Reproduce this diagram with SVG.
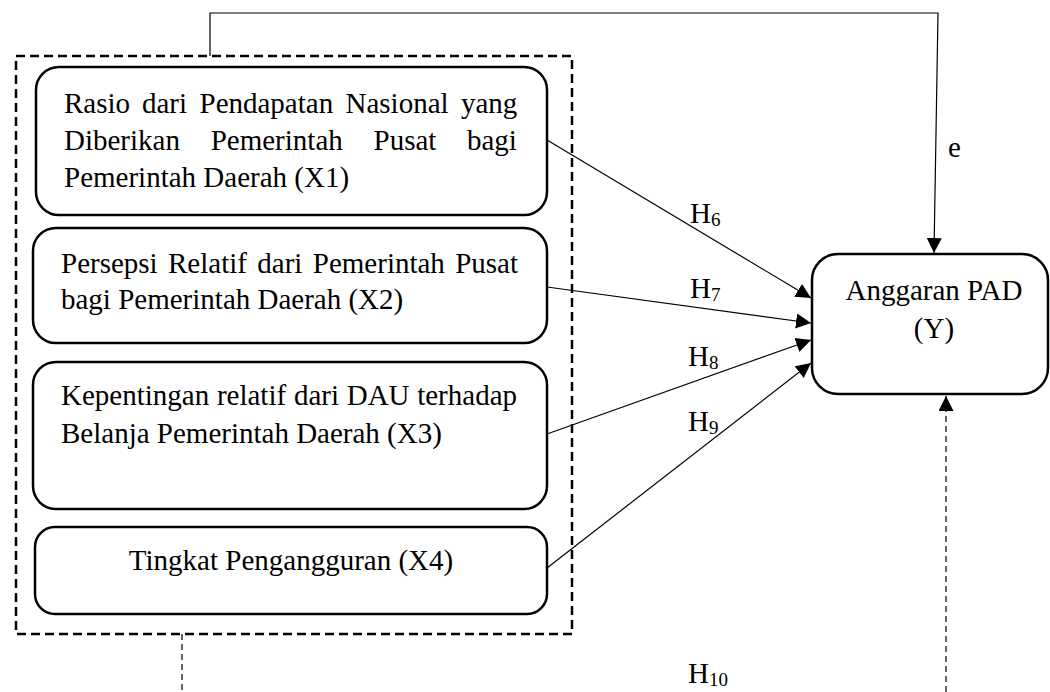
<svg xmlns="http://www.w3.org/2000/svg" width="1050" height="692" viewBox="0 0 1050 692">
<style>
text{font-family:"Liberation Serif","Times New Roman",serif;font-size:29px;fill:#000}
.node{fill:#fff;stroke:#000;stroke-width:2.5}
.group{fill:none;stroke:#000;stroke-width:2.5;stroke-dasharray:9 5}
.c{fill:none;stroke:#000;stroke-width:1.2}
.cd{fill:none;stroke:#000;stroke-width:1.2;stroke-dasharray:6 4}
.sub{font-size:19px}
</style>
<defs>
<marker id="ah" markerUnits="userSpaceOnUse" markerWidth="16" markerHeight="16" refX="15" refY="7.5" orient="auto">
<path d="M0,0 L15,7.5 L0,15 z" fill="#000"/>
</marker>
</defs>
<rect id="group-x" class="group" x="16" y="56" width="556" height="578"/>
<g id="x1">
<rect class="node" x="36" y="67" width="511" height="148" rx="23" ry="23"/>
<text y="113"><tspan x="64">Rasio</tspan><tspan x="142">dari</tspan><tspan x="199.5">Pendapatan</tspan><tspan x="345.5">Nasional</tspan><tspan x="461">yang</tspan></text>
<text y="150"><tspan x="64">Diberikan</tspan><tspan x="210.7">Pemerintah</tspan><tspan x="373.5">Pusat</tspan><tspan x="467">bagi</tspan></text>
<text x="64" y="187">Pemerintah Daerah (X1)</text>
</g>
<g id="x2">
<rect class="node" x="33" y="228" width="514" height="115" rx="23" ry="23"/>
<text y="273"><tspan x="61">Persepsi</tspan><tspan x="168">Relatif</tspan><tspan x="257.3">dari</tspan><tspan x="312.8">Pemerintah</tspan><tspan x="455.2">Pusat</tspan></text>
<text x="61" y="309">bagi Pemerintah Daerah (X2)</text>
</g>
<g id="x3">
<rect class="node" x="33" y="362" width="514" height="147" rx="23" ry="23"/>
<text y="405"><tspan x="61">Kepentingan</tspan><tspan x="216.9">relatif</tspan><tspan x="293.9">dari</tspan><tspan x="346.7">DAU</tspan><tspan x="417.2">terhadap</tspan></text>
<text x="61" y="443">Belanja Pemerintah Daerah (X3)</text>
</g>
<g id="x4">
<rect class="node" x="35" y="527" width="512" height="87" rx="20" ry="20"/>
<text x="291" y="570" text-anchor="middle">Tingkat Pengangguran (X4)</text>
</g>
<g id="y">
<rect class="node" x="812" y="254" width="236" height="140" rx="26" ry="26"/>
<text x="934" y="300" text-anchor="middle">Anggaran PAD</text>
<text x="934" y="338" text-anchor="middle">(Y)</text>
</g>
<g id="connectors">
<path class="c" d="M210,56 L210,13 L938,13 L934,253" marker-end="url(#ah)"/>
<line class="c" x1="547" y1="140" x2="811" y2="298" marker-end="url(#ah)"/>
<line class="c" x1="547" y1="287" x2="811" y2="323" marker-end="url(#ah)"/>
<line class="c" x1="547" y1="434" x2="811" y2="340" marker-end="url(#ah)"/>
<line class="c" x1="547" y1="568" x2="811" y2="363" marker-end="url(#ah)"/>
<line class="cd" x1="182" y1="634" x2="182" y2="692"/>
<line class="cd" x1="946" y1="692" x2="946" y2="396" marker-end="url(#ah)"/>
</g>
<g id="labels">
<text x="948" y="157">e</text>
<text x="690" y="223">H<tspan class="sub" dy="3">6</tspan></text>
<text x="690" y="298">H<tspan class="sub" dy="3">7</tspan></text>
<text x="688" y="366">H<tspan class="sub" dy="3">8</tspan></text>
<text x="688" y="431">H<tspan class="sub" dy="3">9</tspan></text>
<text x="688" y="683">H<tspan class="sub" dy="3">10</tspan></text>
</g>
</svg>
